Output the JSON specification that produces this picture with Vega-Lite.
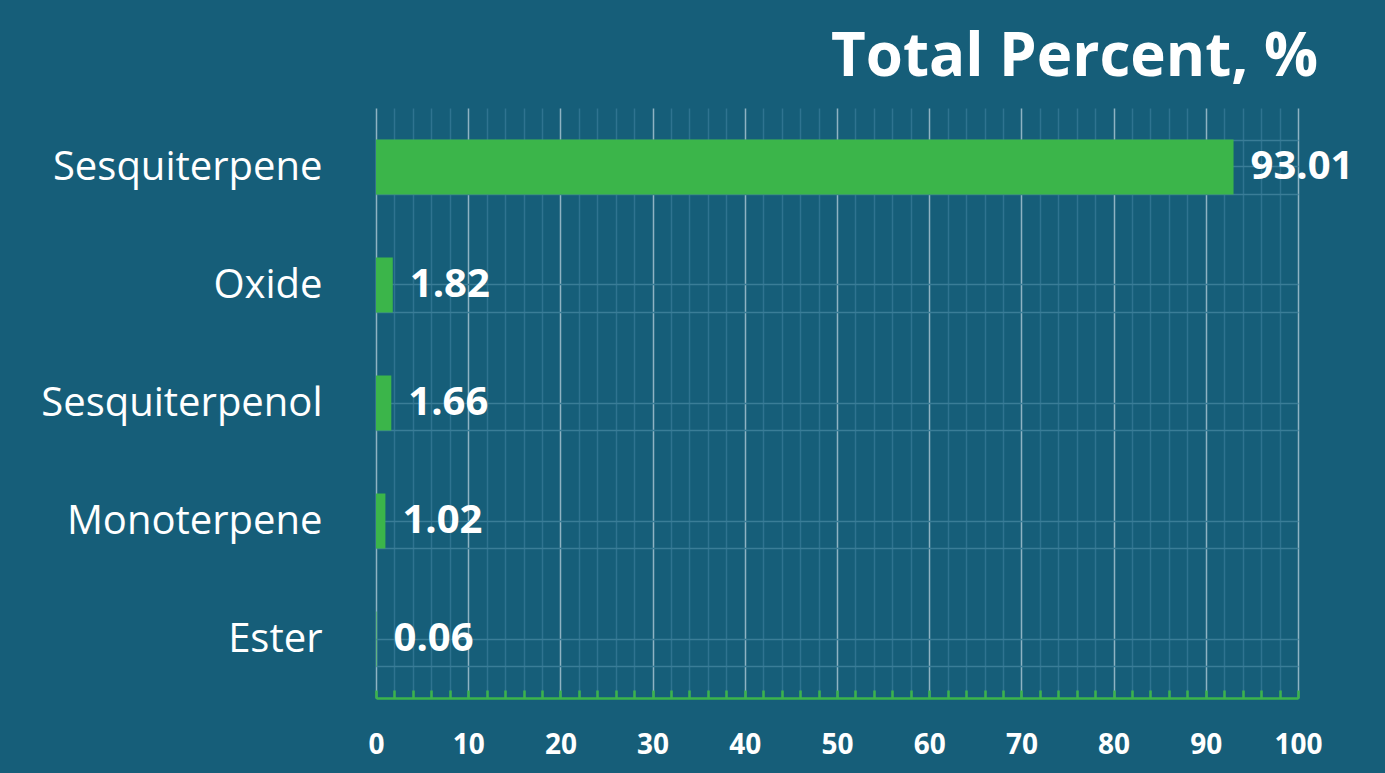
{
  "$schema": "https://vega.github.io/schema/vega-lite/v6.json",
  "width": 922,
  "height": 590,
  "autosize": {"type": "none"},
  "padding": {"left": 376, "top": 108, "right": 87, "bottom": 75},
  "background": "#165e79",
  "config": {"view": {"stroke": null}, "font": "Open Sans"},
  "title": {
    "text": "Total Percent, %",
    "anchor": "end",
    "frame": "group",
    "fontSize": 60,
    "fontWeight": "bold",
    "color": "white",
    "font": "Open Sans",
    "baseline": "alphabetic",
    "offset": 4,
    "dy": 52,
    "dx": 20
  },
  "data": {
    "values": [
      {"group": "Sesquiterpene", "percent": 93.01},
      {"group": "Oxide", "percent": 1.82},
      {"group": "Sesquiterpenol", "percent": 1.66},
      {"group": "Monoterpene", "percent": 1.02},
      {"group": "Ester", "percent": 0.06}
    ]
  },
  "encoding": {
    "x": {
      "field": "percent",
      "type": "quantitative",
      "scale": {"domain": [0, 100], "nice": false},
      "axis": {
        "title": null,
        "values": [0,2,4,6,8,10,12,14,16,18,20,22,24,26,28,30,32,34,36,38,40,42,44,46,48,50,52,54,56,58,60,62,64,66,68,70,72,74,76,78,80,82,84,86,88,90,92,94,96,98,100],
        "labelExpr": "datum.value % 10 === 0 ? datum.label : ''",
        "labelOverlap": false,
        "labelFlush": false,
        "labelFont": "Open Sans",
        "labelFontSize": 28,
        "labelFontWeight": "bold",
        "labelColor": "white",
        "labelPadding": 41,
        "domainColor": "#3cb44b",
        "domainWidth": 2.5,
        "tickColor": "#3cb44b",
        "tickWidth": 2.5,
        "tickSize": -8,
        "grid": true,
        "gridColor": {"condition": {"test": "datum.value % 10 === 0", "value": "#8fb3c3"}, "value": "#2f7390"},
        "gridWidth": 1.5
      }
    }
  },
  "layer": [
    {
      "mark": {"type": "bar", "color": "#3bb54a"},
      "encoding": {
        "y": {
          "field": "group",
          "type": "nominal",
          "sort": null,
          "scale": {"paddingInner": 0.534, "paddingOuter": 0.267},
          "axis": {
            "title": null,
            "domain": false,
            "ticks": false,
            "labelFont": "Open Sans",
            "labelFontSize": 40,
            "labelColor": "white",
            "labelPadding": 54,
            "labelLimit": 0,
            "grid": true,
            "tickBand": "extent",
            "gridColor": "#3a7d97",
            "gridWidth": 1.5
          }
        }
      }
    },
    {
      "mark": {"type": "text", "align": "left", "dx": 17, "fontSize": 40, "fontWeight": "bold", "color": "white", "font": "Open Sans"},
      "encoding": {
        "y": {
          "field": "group",
          "type": "nominal",
          "sort": null,
          "axis": {
            "orient": "right",
            "title": null,
            "labels": false,
            "ticks": false,
            "domain": false,
            "grid": true,
            "gridColor": "#3a7d97",
            "gridWidth": 1.5
          }
        },
        "text": {"field": "percent", "type": "quantitative", "format": ".2f"}
      }
    }
  ],
  "resolve": {"axis": {"y": "independent"}}
}
